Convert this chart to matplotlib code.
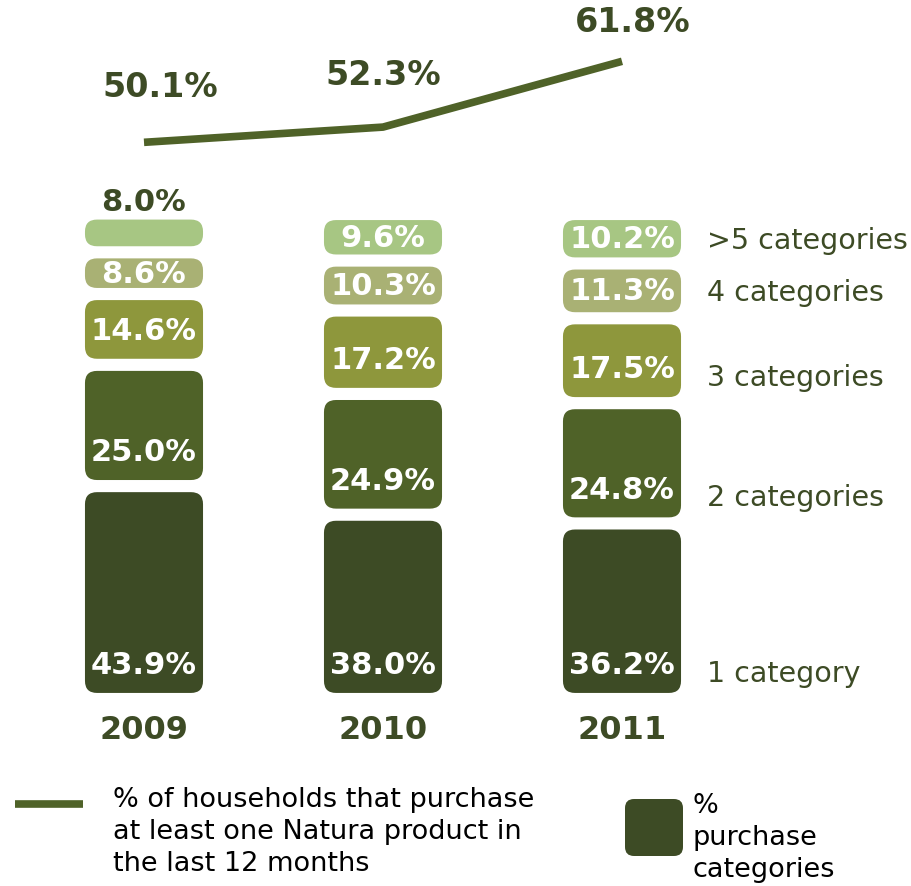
import numpy as np
import matplotlib.pyplot as plt
from matplotlib.patches import FancyBboxPatch
from matplotlib.lines import Line2D

# data
years = ['2009', '2010', '2011']
cat_names = ['1 category', '2 categories', '3 categories', '4 categories', '>5 categories']
one_cat = [43.9, 38.0, 36.2]
two_cat = [25.0, 24.9, 24.8]
three_cat = [14.6, 17.2, 17.5]
four_cat = [8.6, 10.3, 11.3]
five_cat = [8.0, 9.6, 10.2]
households = [50.1, 52.3, 61.8]

segments = [one_cat, two_cat, three_cat, four_cat, five_cat]
seg_colors = ['#3d4b25', '#4f6228', '#8e973c', '#a9b174', '#a7c683']
dark = '#3d4b25'
line_col = '#4f6228'

W, H = 912, 887
fig = plt.figure(figsize=(W / 100, H / 100), dpi=100)

# bar axes: zero at 700px from top, 4.85 px per percent point
ax = fig.add_axes([24.5 / W, 187 / H, 717 / W, 700 / H])
ax.set_xlim(-0.5, 2.5)
ax.set_ylim(0, 700 / 4.85)
for s in ax.spines.values():
    s.set_visible(False)
ax.set_yticks([])

x = np.arange(len(years))
gap = 2.5
bw = 0.494

# pixel scale of data units, used for the rounded corners
p0 = ax.transData.transform((0, 0))
p1 = ax.transData.transform((1, 1))
px_x = p1[0] - p0[0]
px_y = p1[1] - p0[1]
aspect = px_x / px_y

bottom = np.zeros(len(years))
for k, vals in enumerate(segments):
    vals = np.array(vals)
    bars = ax.bar(x, vals - gap, bw, bottom=bottom + gap / 2, color=seg_colors[k])
    for i, rect in enumerate(bars):
        rx, ry = rect.get_xy()
        rw, rh = rect.get_width(), rect.get_height()
        rect.remove()
        r = min(12, rh * px_y / 2) / px_x
        ax.add_patch(FancyBboxPatch((rx, ry), rw, rh,
                                    boxstyle=f'round,pad=0,rounding_size={r}',
                                    mutation_aspect=aspect, fc=seg_colors[k], ec='none'))
        label = f'{vals[i]:.1f}%'
        if k == 4 and i == 0:
            # thin top segment: value sits above the bar
            ax.text(x[i], ry + rh + 0.8, label, ha='center', va='bottom',
                    fontsize=22, fontweight='bold', color=dark)
        else:
            ax.text(x[i], ry + min(rh / 2, 5.8), label, ha='center', va='center',
                    fontsize=22, fontweight='bold', color='white')
        if i == len(years) - 1:
            ax.text(2.356, ry + min(rh / 2, 4.5) - 0.3, cat_names[k], ha='left', va='center',
                    fontsize=20.5, color=dark)
    bottom += vals

ax.set_xticks(x, years)
ax.tick_params(axis='x', length=0, pad=11)
for t in ax.get_xticklabels():
    t.set_fontsize(23)
    t.set_fontweight('bold')
    t.set_color(dark)

# households line on its own scale
ax2 = ax.twinx()
ax2.set_ylim(-30.3, 70.8)
ax2.axis('off')
ax2.plot(x, households, color=line_col, lw=5.5, solid_capstyle='butt')
label_off = [(12, 40), (0, 38), (8, 29)]
for i, v in enumerate(households):
    ax2.annotate(f'{v}%', (x[i], v), xytext=label_off[i], textcoords='offset points',
                 ha='center', va='center', fontsize=24, fontweight='bold', color=dark)

# legend
fig.add_artist(Line2D([15 / W, 83 / W], [1 - 805 / H] * 2, transform=fig.transFigure,
                      color=line_col, lw=5.5, solid_capstyle='butt'))
fig.text(113 / W, 1 - 787 / H,
         '% of households that purchase\nat least one Natura product in\nthe last 12 months',
         ha='left', va='top', fontsize=19.5, color='black', linespacing=1.3)
fig.add_artist(FancyBboxPatch((625 / W, 1 - 857 / H), 58 / W, 57 / H,
                              boxstyle=f'round,pad=0,rounding_size={9 / W}',
                              mutation_aspect=W / H, transform=fig.transFigure,
                              fc=dark, ec='none'))
fig.text(693 / W, 1 - 793 / H, '%\npurchase\ncategories', ha='left', va='top',
         fontsize=19.5, color='black', linespacing=1.3)

fig.savefig('out.png', dpi=100)
